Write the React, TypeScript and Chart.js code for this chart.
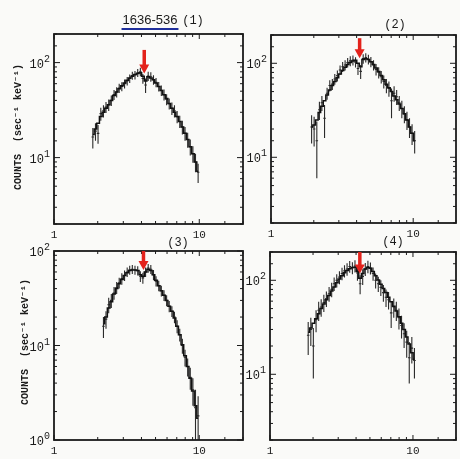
import { useEffect, useRef } from 'react';
import { Chart, registerables } from 'chart.js';

Chart.register(...registerables);

// ---- data ----
const ENERGY_KEV = [
  1.85, 1.93, 2.01, 2.10, 2.19, 2.28, 2.38, 2.48, 2.59, 2.70,
  2.81, 2.93, 3.06, 3.19, 3.32, 3.46, 3.61, 3.77, 3.93, 4.09,
  4.27, 4.45, 4.64, 4.84, 5.04, 5.26, 5.48, 5.72, 5.96, 6.21,
  6.48, 6.75, 7.04, 7.34, 7.65, 7.98, 8.32, 8.67, 9.04, 9.42,
  9.82, 10.24,
];

const P1_COUNTS = [16.5, 19, 18, 29, 31, 34, 36, 40, 46, 49, 54, 56, 60, 64, 68, 73, 74, 78, 80, 68, 58, 72, 71, 66, 62, 56, 51, 46, 41, 37, 33, 31, 27, 24, 21, 18, 15.5, 13, 11, 9, 7, null];
const P1_ERR = [4, 4, 4, 4.5, 4.5, 4.5, 5, 5, 5.5, 6, 6, 6, 6.5, 6.5, 7, 7, 7.5, 7.5, 8, 8, 10, 8, 8, 7.5, 7, 6.5, 6.5, 6, 5.5, 5, 5, 4.5, 4, 3.5, 3.5, 3, 2.8, 2.5, 2.2, 2, 1.6, null];
const P1_MODEL = [17.5, 20, 23, 27, 30, 33, 36, 40, 45, 49, 53, 57, 61, 65, 69, 72, 75, 77, 78, 72, 64, 71, 69, 66, 61, 56, 51, 46, 42, 37, 33, 30, 27, 24, 21, 18, 15.5, 13, 11, 9, 7.2, null];

const P2_COUNTS = [null, 21, 20, 15, 32, 38, 26, 48, 58, 60, 68, 74, 85, 92, 96, 102, 106, 108, 103, 88, 82, 112, 115, 110, 104, 96, 86, 80, 72, 64, 58, 54, 40, 48, 44, 38, 33, 29, 25, 21, 18, 15];
const P2_ERR = [null, 7, 7, 9, 7, 7, 10, 7, 8, 8, 9, 10, 10, 11, 12, 12, 13, 13, 13, 13, 14, 13, 13, 13, 13, 12, 12, 11, 11, 10, 10, 10, 14, 9, 8, 7, 7, 6, 5.5, 5, 4.5, 4];
const P2_MODEL = [null, 21, 22, 25, 30, 35, 40, 46, 52, 58, 64, 70, 77, 84, 91, 97, 102, 106, 108, 100, 92, 110, 112, 110, 104, 97, 89, 82, 74, 67, 60, 55, 50, 45, 41, 37, 33, 29, 25, 21, 18, 15];

const P3_COUNTS = [null, null, null, null, 16, 19, 27, 30, 36, 41, 46, 51, 55, 60, 63, 64, 63, 62, 54, 52, 60, 66, 64, 56, 48, 43, 38, 34, 30, 26, 23, 20, 16, 13, 10, 7.5, 6, 4.6, 3.4, 2.2, 1.8, null];
const P3_ERR = [null, null, null, null, 4, 4, 5, 5, 5.5, 6, 6, 7, 7, 7, 7, 7, 7, 7, 7, 7, 7, 7, 7, 7, 6, 5.5, 5, 4.5, 4, 3.5, 3, 2.8, 2.5, 2, 1.8, 1.5, 1.3, 1.2, 1.1, 1.2, 1.1, null];
const P3_MODEL = [null, null, null, null, 17, 20, 25, 29, 35, 40, 45, 50, 55, 59, 62, 63, 63, 62, 56, 54, 60, 64, 62, 56, 49, 43, 38, 34, 30, 26, 23, 19.5, 16, 13, 10.2, 7.8, 6, 4.5, 3.3, 2.3, 1.7, null];

const P4_COUNTS = [26, 30, 20, 38, 48, 52, 58, 64, 72, 80, 92, 100, 108, 118, 126, 132, 140, 136, 142, 120, 92, 110, 132, 140, 135, 118, 100, 92, 84, 74, 66, 62, 45, 52, 48, 40, 33, 27, 22, 15, 19, 14];
const P4_ERR = [10, 10, 11, 10, 11, 11, 12, 12, 13, 14, 15, 16, 17, 18, 19, 20, 20, 20, 21, 21, 21, 21, 21, 21, 20, 19, 18, 17, 16, 15, 14, 13, 14, 12, 11, 10, 9, 8, 7, 7, 6, 5];
const P4_MODEL = [28, 31, 35, 39, 44, 50, 56, 62, 69, 77, 85, 94, 103, 112, 120, 127, 133, 137, 138, 125, 105, 118, 132, 137, 134, 124, 112, 101, 91, 82, 74, 66, 59, 53, 47, 41, 35, 30, 25, 21, 17, 14.5];

const SOURCE_NAME = '1636-536';
const PANEL_LABELS = ['(1)', '(2)', '(3)', '(4)'];
const Y_TITLE = 'COUNTS  (sec⁻¹ keV⁻¹)';
const X_TICK_LABELS: Record<string, string> = { '1': '1', '10': '10' };
const Y_TICK_BASE = '10';
const Y_TICK_EXP: Record<string, string> = { '1': '0', '10': '1', '100': '2' };
const X_RANGE = [1, 20];
const Y_MIN = [2, 2, 1, 2];
const Y_MAX = [200, 200, 100, 200];
const ARROW_KEV = [4.18, 4.2, 4.13, 4.25];
const ARROW_TOP = [136, 185, 100, 200];
const ARROW_TIP = [77, 113, 63, 118];

const COUNTS = [P1_COUNTS, P2_COUNTS, P3_COUNTS, P4_COUNTS];
const ERRS = [P1_ERR, P2_ERR, P3_ERR, P4_ERR];
const MODELS = [P1_MODEL, P2_MODEL, P3_MODEL, P4_MODEL];

// ---- layout (positions / sizes) ----
type PanelCfg = {
  left: number; top: number; w: number; h: number;
  pad: { top: number; right: number; left: number; bottom: number };
  yW: number; xH: number;
  label: [number, number];
  yTitle?: [number, number];
  source?: boolean;
};

const PANELS: PanelCfg[] = [
  { left: 0, top: 0, w: 250, h: 240, pad: { top: 34, right: 7, left: 0, bottom: 0 }, yW: 54, xH: 16, label: [193, 21], yTitle: [18, 127], source: true },
  { left: 230, top: 0, w: 230, h: 240, pad: { top: 35, right: 1, left: 0, bottom: 0 }, yW: 41, xH: 17, label: [165, 25] },
  { left: 0, top: 235, w: 250, h: 224, pad: { top: 16, right: 7, left: 0, bottom: 0 }, yW: 54, xH: 19, label: [178, 8], yTitle: [25, 107] },
  { left: 230, top: 235, w: 230, h: 224, pad: { top: 17, right: 1, left: 0, bottom: 0 }, yW: 40, xH: 19, label: [163, 7] },
];

const INK = '#1a1a1a';
const MONO = "'Liberation Mono', 'DejaVu Sans Mono', monospace";

function keyOf(v: number) {
  return String(Math.round(v * 1000) / 1000);
}

function errorPoints(counts: (number | null)[], errs: (number | null)[], yMin: number) {
  const pts: { x: number; y: number | null }[] = [];
  ENERGY_KEV.forEach((e, i) => {
    const c = counts[i];
    if (c == null) return;
    const er = errs[i] ?? 0;
    pts.push({ x: e, y: Math.max(c - er, yMin * 0.5) }, { x: e, y: c + er }, { x: e, y: null });
  });
  return pts;
}

function binPoints(counts: (number | null)[]) {
  const pts: { x: number; y: number | null }[] = [];
  ENERGY_KEV.forEach((e, i) => {
    const c = counts[i];
    if (c == null) return;
    pts.push({ x: e / 1.021, y: c }, { x: e * 1.021, y: c }, { x: e, y: null });
  });
  return pts;
}

function modelPoints(model: (number | null)[]) {
  const pts: { x: number; y: number }[] = [];
  ENERGY_KEV.forEach((e, i) => {
    const m = model[i];
    if (m != null) pts.push({ x: e, y: m });
  });
  return pts;
}

function Panel({ idx }: { idx: number }) {
  const ref = useRef<HTMLCanvasElement | null>(null);
  const cfg = PANELS[idx];

  useEffect(() => {
    if (!ref.current) return;

    const decor = {
      id: 'decor',
      afterDatasetsDraw(chart: any) {
        const { ctx, chartArea: a } = chart;
        const xs = chart.scales.x;
        const ys = chart.scales.y;
        ctx.save();
        // frame
        ctx.strokeStyle = INK;
        ctx.lineWidth = 1.8;
        ctx.strokeRect(a.left, a.top, a.right - a.left, a.bottom - a.top);
        // inward tick marks on all four sides
        ctx.lineWidth = 1;
        xs.ticks.forEach((t: any) => {
          const px = xs.getPixelForValue(t.value);
          const lg = Math.log10(t.value);
          const len = Math.abs(lg - Math.round(lg)) < 1e-6 ? 5 : 3;
          ctx.beginPath();
          ctx.moveTo(px, a.bottom); ctx.lineTo(px, a.bottom - len);
          ctx.moveTo(px, a.top); ctx.lineTo(px, a.top + len);
          ctx.stroke();
        });
        ys.ticks.forEach((t: any) => {
          const py = ys.getPixelForValue(t.value);
          const lg = Math.log10(t.value);
          const major = Math.abs(lg - Math.round(lg)) < 1e-6;
          const len = major ? 6 : 3;
          ctx.beginPath();
          ctx.moveTo(a.left, py); ctx.lineTo(a.left + len, py);
          ctx.moveTo(a.right, py); ctx.lineTo(a.right - len, py);
          ctx.stroke();
          // decade labels 10^n with a raised exponent
          const exp = Y_TICK_EXP[keyOf(t.value)];
          if (exp !== undefined) {
            ctx.fillStyle = INK;
            ctx.textAlign = 'right';
            ctx.textBaseline = 'alphabetic';
            ctx.font = `10px ${MONO}`;
            const ex = a.left - 4;
            ctx.fillText(exp, ex, py - 1);
            const ew = ctx.measureText(exp).width;
            ctx.font = `12px ${MONO}`;
            ctx.fillText(Y_TICK_BASE, ex - ew, py + 5);
          }
        });
        // red arrow
        const ax = xs.getPixelForValue(ARROW_KEV[idx]);
        const aTop = ys.getPixelForValue(ARROW_TOP[idx]);
        const aTip = ys.getPixelForValue(ARROW_TIP[idx]);
        ctx.strokeStyle = '#e3221b';
        ctx.fillStyle = '#e3221b';
        ctx.lineWidth = 3.5;
        ctx.beginPath();
        ctx.moveTo(ax, aTop);
        ctx.lineTo(ax, aTip - 7);
        ctx.stroke();
        ctx.beginPath();
        ctx.moveTo(ax - 5, aTip - 9);
        ctx.lineTo(ax + 5, aTip - 9);
        ctx.lineTo(ax, aTip);
        ctx.closePath();
        ctx.fill();
        // texts
        ctx.fillStyle = INK;
        ctx.textBaseline = 'middle';
        ctx.textAlign = 'center';
        ctx.font = `12px ${MONO}`;
        ctx.fillText(PANEL_LABELS[idx], cfg.label[0], cfg.label[1]);
        if (cfg.source) {
          const cx = 150;
          ctx.font = "13px 'Liberation Sans', Arial, sans-serif";
          ctx.fillText(SOURCE_NAME, cx, 20);
          const w = ctx.measureText(SOURCE_NAME).width;
          ctx.strokeStyle = '#1f2f9c';
          ctx.lineWidth = 2.2;
          ctx.beginPath();
          ctx.moveTo(cx - w / 2 - 1, 29);
          ctx.lineTo(cx + w / 2 + 1, 29);
          ctx.stroke();
        }
        if (cfg.yTitle) {
          ctx.translate(cfg.yTitle[0], cfg.yTitle[1]);
          ctx.rotate(-Math.PI / 2);
          ctx.font = `bold 10px ${MONO}`;
          ctx.fillStyle = INK;
          ctx.fillText(Y_TITLE, 0, 0);
        }
        ctx.restore();
      },
    };

    const chart = new Chart(ref.current, {
      type: 'scatter',
      data: {
        datasets: [
          {
            label: 'model',
            data: modelPoints(MODELS[idx]),
            showLine: true,
            stepped: 'middle',
            borderColor: '#111111',
            borderWidth: 1.5,
            pointRadius: 0,
          },
          {
            label: 'errors',
            data: errorPoints(COUNTS[idx], ERRS[idx], Y_MIN[idx]),
            showLine: true,
            spanGaps: false,
            borderColor: '#2a2a2a',
            borderWidth: 1.1,
            pointRadius: 0,
          },
          {
            label: 'bins',
            data: binPoints(COUNTS[idx]),
            showLine: true,
            spanGaps: false,
            borderColor: '#2a2a2a',
            borderWidth: 1.1,
            pointRadius: 0,
          },
        ],
      } as any,
      options: {
        animation: false,
        responsive: false,
        devicePixelRatio: 1,
        events: [],
        layout: { padding: cfg.pad },
        plugins: { legend: { display: false }, tooltip: { enabled: false }, title: { display: false } },
        scales: {
          x: {
            type: 'logarithmic',
            min: X_RANGE[0],
            max: X_RANGE[1],
            border: { display: false },
            grid: { display: false, drawTicks: false },
            ticks: {
              autoSkip: false,
              maxRotation: 0,
              padding: 4,
              color: INK,
              font: { family: MONO, size: 11 },
              callback: (v: any) => X_TICK_LABELS[keyOf(Number(v))] ?? '',
            },
            afterFit: (s: any) => { s.height = cfg.xH; },
          },
          y: {
            type: 'logarithmic',
            min: Y_MIN[idx],
            max: Y_MAX[idx],
            border: { display: false },
            grid: { display: false, drawTicks: false },
            ticks: {
              display: false,
              autoSkip: false,
            },
            afterFit: (s: any) => { s.width = cfg.yW; },
          },
        },
      } as any,
      plugins: [decor],
    });
    return () => chart.destroy();
  }, []);

  return (
    <canvas
      ref={ref}
      width={cfg.w}
      height={cfg.h}
      style={{ position: 'absolute', left: cfg.left, top: cfg.top, width: cfg.w, height: cfg.h }}
    />
  );
}

export default function App() {
  return (
    <div
      style={{
        position: 'fixed',
        left: 0,
        top: 0,
        width: 460,
        height: 459,
        background: '#fafaf8',
        overflow: 'hidden',
      }}
    >
      {PANELS.map((_, i) => (
        <Panel key={i} idx={i} />
      ))}
    </div>
  );
}
